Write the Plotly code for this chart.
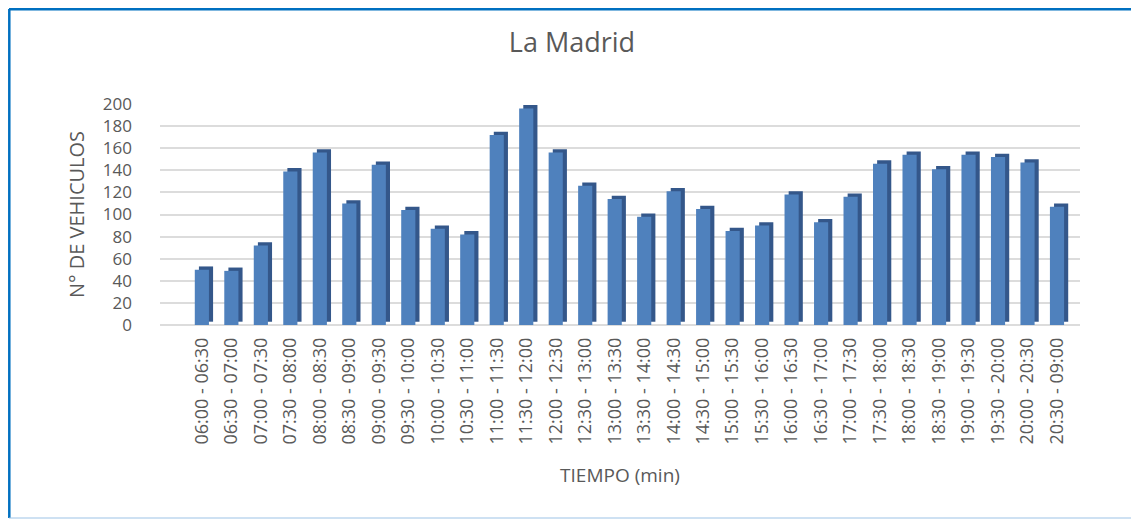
import plotly.graph_objects as go

# --- datos ---
intervalos = [
    "06:00 - 06:30", "06:30 - 07:00", "07:00 - 07:30", "07:30 - 08:00",
    "08:00 - 08:30", "08:30 - 09:00", "09:00 - 09:30", "09:30 - 10:00",
    "10:00 - 10:30", "10:30 - 11:00", "11:00 - 11:30", "11:30 - 12:00",
    "12:00 - 12:30", "12:30 - 13:00", "13:00 - 13:30", "13:30 - 14:00",
    "14:00 - 14:30", "14:30 - 15:00", "15:00 - 15:30", "15:30 - 16:00",
    "16:00 - 16:30", "16:30 - 17:00", "17:00 - 17:30", "17:30 - 18:00",
    "18:00 - 18:30", "18:30 - 19:00", "19:00 - 19:30", "19:30 - 20:00",
    "20:00 - 20:30", "20:30 - 09:00",
]
vehiculos = [50, 49, 72, 139, 156, 110, 145, 104, 87, 82,
             172, 196, 156, 126, 114, 98, 121, 105, 85, 90,
             118, 93, 116, 146, 154, 141, 154, 152, 147, 107]
y_ticks = [0, 20, 40, 60, 80, 100, 120, 140, 160, 180, 200]

FONT = "Open Sans"
GRIS = "#595959"

# la página tiene 8px de margen en el body: la figura se reduce para caber
W, H = 1131, 513

fig = go.Figure()

# cara lateral / superior (efecto 3D)
fig.add_trace(go.Bar(
    x=intervalos, y=vehiculos, base=3,
    marker=dict(color="#34578A", line=dict(width=0)),
    width=0.48, offset=-0.1, hoverinfo="skip", showlegend=False
))
# cara frontal
fig.add_trace(go.Bar(
    x=intervalos, y=vehiculos,
    marker=dict(color="#4F81BD", line=dict(width=0)),
    width=0.48, offset=-0.24, name="Vehículos", showlegend=False
))

# marco del gráfico (en píxeles respecto a la esquina inferior izquierda del área de trazado)
borde = dict(xref="paper", yref="paper", xsizemode="pixel", ysizemode="pixel",
             xanchor=0, yanchor=0, layer="above")
fig.add_shape(type="line", x0=-151, x1=973, y0=315.7, y1=315.7,
              line=dict(color="#0070C0", width=2.5), **borde)
fig.add_shape(type="line", x0=-150.7, x1=-150.7, y0=316, y1=-193,
              line=dict(color="#0070C0", width=2.5), **borde)
fig.add_shape(type="line", x0=973, x1=973, y0=316, y1=-193,
              line=dict(color="#9DC3E6", width=1), **borde)
fig.add_shape(type="line", x0=-151, x1=973, y0=-193, y1=-193,
              line=dict(color="#9DC3E6", width=1), **borde)

fig.update_layout(
    width=W, height=H,
    title=dict(text="La Madrid", x=564 / W, xanchor="center",
               y=1 - 35 / H, yanchor="middle",
               font=dict(family=FONT, size=27, color=GRIS)),
    barmode="overlay",
    margin=dict(t=96, b=196, l=152, r=59),
    plot_bgcolor="white", paper_bgcolor="white",
    font=dict(family=FONT, color=GRIS),
    xaxis=dict(
        range=[-1.42, 29.78], tickangle=-90,
        tickfont=dict(size=18, color=GRIS),
        title=dict(text="TIEMPO (min)", font=dict(size=19, color=GRIS), standoff=25),
        showgrid=False, showline=False, ticks="", ticklabelstandoff=8,
        automargin=False,
    ),
    yaxis=dict(
        range=[0, 200], tickvals=y_ticks,
        tickfont=dict(size=17, color=GRIS),
        title=dict(text="N° DE VEHICULOS", font=dict(size=20, color=GRIS), standoff=12),
        showgrid=True, gridcolor="#DCDCDC", gridwidth=1.5,
        zeroline=True, zerolinecolor="#DCDCDC", zerolinewidth=1.5,
        ticks="", ticklabelstandoff=27, automargin=False,
    ),
)

fig.write_html("out.html")
